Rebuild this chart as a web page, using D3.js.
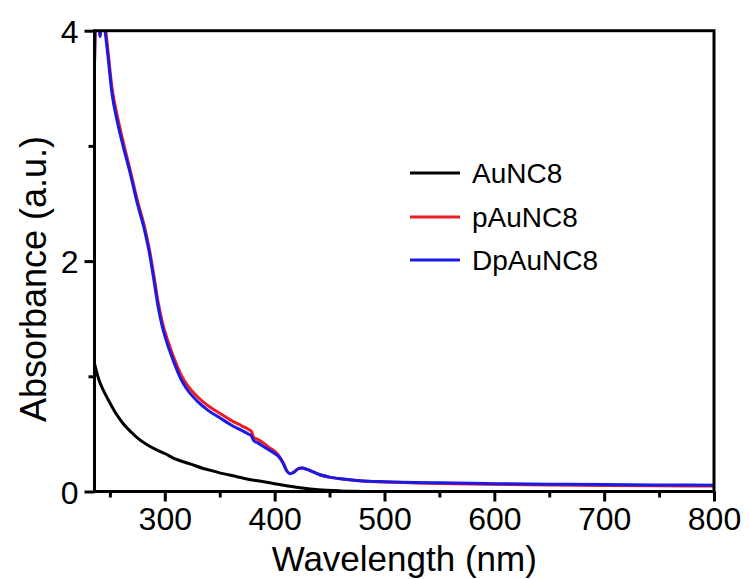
<!DOCTYPE html>
<html>
<head>
<meta charset="utf-8">
<script src="https://cdn.jsdelivr.net/npm/d3@7"></script>
<style>
  html, body { margin: 0; padding: 0; background: #fff; }
  svg { display: block; }
  text { font-family: Arial, "Liberation Sans", sans-serif; fill: #000; }
</style>
</head>
<body>
<svg id="chart" width="750" height="579"></svg>
<script>
// ---- Data ----
const seriesNames = ["AuNC8", "pAuNC8", "DpAuNC8"];
const seriesColors = ["#000000", "#ee1c25", "#1a1ae6"];

const wlAuNC8 = [236,240,245,250,256,262,270,277,285,293,300,310,323,335,345,353,365,377,390,400,414,425,440,460,480,500,600,700,800];
const absAuNC8 = [1.11,0.97,0.86,0.77,0.67,0.59,0.51,0.45,0.40,0.36,0.33,0.28,0.24,0.20,0.175,0.155,0.13,0.105,0.085,0.068,0.045,0.03,0.015,0.005,0,-0.005,-0.01,-0.01,-0.01];

const wlP = [236,237,240,241,243,245,248,252,257,262,268,275,282,286,290,294,298,302,306,310,315,320,325,330,340,350,360,370,376,379,381,385,390,395,400,404,408,411,414,417,421,425,430,435,440,450,460,470,485,500,550,600,650,700,750,800];
const absPAuNC8 = [3.7,4.1,4.2,3.95,4.2,4.1,3.85,3.5,3.25,3.04,2.81,2.53,2.28,2.1,1.88,1.64,1.46,1.33,1.22,1.12,1.01,0.93,0.87,0.82,0.74,0.68,0.62,0.57,0.54,0.52,0.47,0.45,0.42,0.38,0.35,0.31,0.245,0.18,0.155,0.165,0.195,0.205,0.19,0.17,0.15,0.125,0.11,0.10,0.088,0.082,0.07,0.062,0.057,0.053,0.05,0.047];
const absDpAuNC8 = [3.7,4.1,4.2,3.95,4.2,4.05,3.8,3.45,3.2,3.0,2.78,2.5,2.25,2.07,1.84,1.6,1.42,1.29,1.18,1.08,0.97,0.89,0.83,0.78,0.70,0.64,0.58,0.53,0.50,0.48,0.44,0.42,0.39,0.36,0.33,0.30,0.24,0.18,0.155,0.165,0.195,0.205,0.19,0.17,0.15,0.125,0.11,0.10,0.09,0.085,0.075,0.068,0.064,0.06,0.057,0.055];

const xMajorTicks = [300, 400, 500, 600, 700, 800];
const xMinorTicks = [250, 350, 450, 550, 650, 750];
const yMajorTicks = [0, 2, 4];
const yMinorTicks = [1, 3];
const xTitle = "Wavelength (nm)";
const yTitle = "Absorbance (a.u.)";

// ---- Layout ----
const L = 94.5, R = 714, T = 30.7, B = 491.5;
const svg = d3.select("#chart");
const x = d3.scaleLinear().domain([236, 800]).range([L, R]);
const y = d3.scaleLinear().domain([0, 4]).range([B, T]);

svg.append("defs").append("clipPath").attr("id", "clip")
  .append("rect").attr("x", L).attr("y", T).attr("width", R - L).attr("height", B - T);

const series = [
  { name: seriesNames[0], color: seriesColors[0], pts: wlAuNC8.map((w, i) => [w, absAuNC8[i]]) },
  { name: seriesNames[1], color: seriesColors[1], pts: wlP.map((w, i) => [w, absPAuNC8[i]]) },
  { name: seriesNames[2], color: seriesColors[2], pts: wlP.map((w, i) => [w, absDpAuNC8[i]]) }
];

const line = d3.line().x(d => x(d[0])).y(d => y(d[1])).curve(d3.curveMonotoneX);

const g = svg.append("g").attr("clip-path", "url(#clip)");
series.forEach(s => {
  g.append("path").attr("d", line(s.pts)).attr("fill", "none")
    .attr("stroke", s.color).attr("stroke-width", 3).attr("stroke-linejoin", "round");
});

// ---- Axes ----
const xAxis = d3.axisBottom(x).tickValues(xMajorTicks).tickSize(10).tickSizeOuter(0).tickPadding(6).tickFormat(d3.format("d"));
const xAxisMinor = d3.axisBottom(x).tickValues(xMinorTicks).tickSize(6).tickSizeOuter(0).tickFormat("");
const yAxis = d3.axisLeft(y).tickValues(yMajorTicks).tickSize(10).tickSizeOuter(0).tickPadding(6).tickFormat(d3.format("d"));
const yAxisMinor = d3.axisLeft(y).tickValues(yMinorTicks).tickSize(6).tickSizeOuter(0).tickFormat("");

function styleAxis(sel) {
  sel.select(".domain").remove();
  sel.selectAll(".tick line").attr("stroke", "#000").attr("stroke-width", 3);
  sel.selectAll(".tick text").style("font-family", "Arial, 'Liberation Sans', sans-serif")
    .style("font-size", "32px").attr("fill", "#000");
}

svg.append("g").attr("transform", `translate(0,${B})`).call(xAxis).call(styleAxis);
svg.append("g").attr("transform", `translate(0,${B})`).call(xAxisMinor).call(styleAxis);
svg.append("g").attr("transform", `translate(${L},0)`).call(yAxis).call(styleAxis)
  .selectAll(".tick text").attr("dy", "0.36em");
svg.append("g").attr("transform", `translate(${L},0)`).call(yAxisMinor).call(styleAxis);

// frame
svg.append("rect").attr("x", L).attr("y", T).attr("width", R - L).attr("height", B - T)
  .attr("fill", "none").attr("stroke", "#000").attr("stroke-width", 3);

// titles
svg.append("text").attr("x", (L + R) / 2).attr("y", 571).attr("text-anchor", "middle")
  .style("font-size", "35px").text(xTitle);
svg.append("text").attr("transform", `translate(46,${279}) rotate(-90)`).attr("text-anchor", "middle")
  .style("font-size", "36px").text(yTitle);

// legend
const legY = [173, 217, 260];
series.forEach((s, i) => {
  svg.append("line").attr("x1", 410).attr("x2", 460).attr("y1", legY[i]).attr("y2", legY[i])
    .attr("stroke", s.color).attr("stroke-width", 3);
  svg.append("text").attr("x", 472).attr("y", legY[i]).attr("dy", "0.36em")
    .style("font-size", "28px").text(s.name);
});
</script>
</body>
</html>
